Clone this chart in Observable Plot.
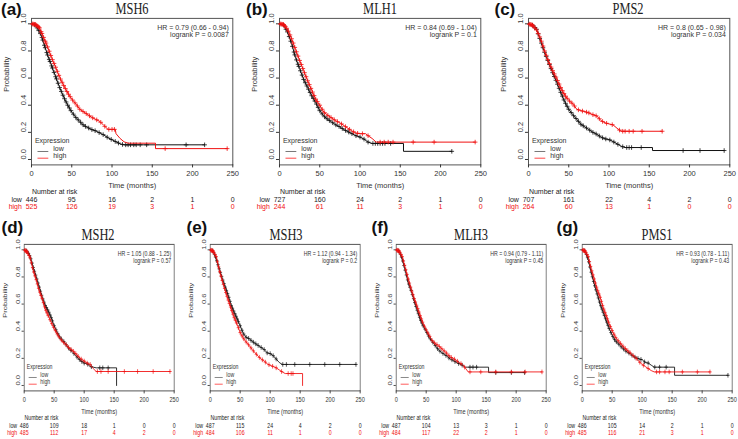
<!DOCTYPE html>
<html><head><meta charset="utf-8">
<script src="https://cdn.jsdelivr.net/npm/d3@7"></script>
<script src="https://cdn.jsdelivr.net/npm/@observablehq/plot@0.6"></script>
<style>
html,body{margin:0;padding:0;background:#fff;overflow:hidden}
#root{position:relative;width:738px;height:439px;overflow:hidden;background:#fff}
.panel{position:absolute;transform-origin:0 0;width:247.8px;height:218px}
.panel svg{max-width:none !important;display:block}
.lab{position:absolute;font:bold 17px "Liberation Sans",Arial,sans-serif;line-height:1;white-space:nowrap;color:#111}
.ttl{position:absolute;font:17px "Liberation Serif","DejaVu Serif",serif;line-height:1;white-space:nowrap;color:#222;transform:translateX(-50%) scaleX(0.73)}
</style></head><body><div id="root"></div>
<script>
// ---------- data ----------
const genes = ["MSH6", "MLH1", "PMS2", "MSH2", "MSH3", "MLH3", "PMS1"];
const panelLetters = ["(a)", "(b)", "(c)", "(d)", "(e)", "(f)", "(g)"];
const hrText = ["HR = 0.79 (0.66 - 0.94)", "HR = 0.84 (0.69 - 1.04)", "HR = 0.8 (0.65 - 0.98)",
  "HR = 1.05 (0.88 - 1.25)", "HR = 1.12 (0.94 - 1.34)", "HR = 0.94 (0.79 - 1.11)", "HR = 0.93 (0.78 - 1.11)"];
const logrankText = ["logrank P = 0.0087", "logrank P = 0.1", "logrank P = 0.034",
  "logrank P = 0.57", "logrank P = 0.2", "logrank P = 0.45", "logrank P = 0.43"];
const riskTimes = [0, 50, 100, 150, 200, 250];
const yTicks = [0, 0.2, 0.4, 0.6, 0.8, 1.0];
const riskLow = [[446, 95, 16, 2, 1, 0], [727, 160, 24, 2, 1, 0], [707, 161, 22, 4, 2, 0],
  [486, 109, 18, 1, 0, 0], [487, 115, 24, 4, 2, 0], [487, 104, 13, 3, 1, 0], [486, 105, 14, 2, 1, 0]];
const riskHigh = [[525, 126, 19, 3, 1, 0], [244, 61, 11, 3, 1, 0], [264, 60, 13, 1, 0, 0],
  [485, 112, 17, 4, 2, 0], [484, 106, 11, 1, 0, 0], [484, 117, 22, 2, 1, 0], [485, 116, 21, 3, 1, 0]];

// survival curves: [months, probability]
const msh6Low = [[0,1],[5,0.99],[10,0.94],[12.5,0.91],[15,0.86],[20,0.77],[25,0.69],[30,0.61],[35,0.53],[40,0.46],[45,0.40],[50,0.35],[55,0.31],[60,0.28],[65,0.25],[70,0.235],[75,0.22],[80,0.21],[85,0.195],[90,0.18],[95,0.16],[100,0.145],[105,0.13],[110,0.115],[115,0.108],[215,0.108]];
const msh6High = [[0,1],[5,0.995],[10,0.97],[15,0.90],[20,0.83],[25,0.75],[30,0.68],[35,0.605],[40,0.545],[45,0.49],[50,0.445],[55,0.41],[60,0.37],[65,0.35],[70,0.33],[75,0.31],[80,0.295],[85,0.28],[90,0.25],[95,0.222],[104,0.222],[105,0.19],[110,0.155],[115,0.13],[120,0.12],[154,0.12],[154,0.08],[243,0.08]];
const mlh1Low = [[0,1],[5,0.99],[10,0.94],[15,0.855],[20,0.75],[25,0.67],[30,0.59],[35,0.53],[40,0.47],[45,0.42],[50,0.36],[55,0.32],[60,0.295],[65,0.275],[70,0.255],[75,0.24],[80,0.22],[85,0.205],[90,0.19],[95,0.175],[100,0.165],[105,0.15],[110,0.128],[115,0.118],[154,0.118],[154,0.06],[214,0.06]];
const mlh1High = [[0,1],[5,0.995],[10,0.96],[15,0.89],[20,0.81],[25,0.73],[30,0.655],[35,0.58],[40,0.51],[45,0.445],[50,0.40],[55,0.35],[60,0.325],[65,0.305],[70,0.285],[75,0.27],[80,0.25],[85,0.23],[90,0.21],[95,0.195],[100,0.19],[107,0.19],[110,0.175],[115,0.155],[120,0.128],[243,0.128]];
const pms2Low = [[0,1],[5,0.99],[10,0.96],[15,0.875],[20,0.79],[25,0.715],[30,0.64],[35,0.57],[40,0.495],[45,0.425],[50,0.37],[55,0.33],[60,0.295],[65,0.26],[70,0.24],[75,0.22],[80,0.20],[85,0.185],[90,0.165],[95,0.152],[100,0.147],[105,0.132],[110,0.115],[115,0.098],[120,0.088],[154,0.088],[154,0.066],[243,0.066]];
const pms2High = [[0,1],[5,0.99],[10,0.955],[15,0.89],[20,0.80],[25,0.72],[30,0.655],[35,0.595],[40,0.53],[45,0.475],[50,0.435],[55,0.41],[60,0.37],[65,0.36],[70,0.353],[75,0.343],[80,0.33],[85,0.32],[90,0.287],[95,0.27],[100,0.262],[105,0.255],[110,0.23],[115,0.208],[166,0.208]];
const msh2Low = [[0,1],[5,0.99],[10,0.95],[15,0.87],[20,0.80],[25,0.725],[30,0.65],[35,0.59],[40,0.55],[45,0.50],[50,0.44],[55,0.39],[60,0.35],[65,0.33],[70,0.30],[75,0.27],[80,0.25],[85,0.225],[90,0.20],[95,0.18],[100,0.165],[105,0.16],[110,0.14],[115,0.135],[120,0.13],[154,0.13],[154,0]];
const msh2High = [[0,1],[5,0.985],[10,0.94],[15,0.85],[20,0.78],[25,0.70],[30,0.64],[35,0.565],[40,0.515],[45,0.465],[50,0.42],[55,0.38],[60,0.345],[65,0.32],[70,0.30],[75,0.275],[80,0.26],[85,0.24],[90,0.215],[95,0.195],[100,0.18],[105,0.165],[110,0.155],[115,0.125],[120,0.103],[243,0.103]];
const msh3Low = [[0,1],[5,0.99],[10,0.935],[15,0.86],[20,0.79],[25,0.725],[30,0.665],[35,0.59],[40,0.54],[45,0.49],[50,0.44],[55,0.385],[60,0.355],[65,0.345],[70,0.325],[75,0.31],[80,0.295],[85,0.28],[90,0.265],[95,0.24],[100,0.235],[105,0.22],[110,0.195],[115,0.17],[120,0.155],[243,0.155]];
const msh3High = [[0,1],[5,0.99],[10,0.95],[15,0.855],[20,0.775],[25,0.70],[30,0.63],[35,0.565],[40,0.50],[45,0.45],[50,0.39],[55,0.35],[60,0.32],[65,0.295],[70,0.265],[75,0.24],[80,0.215],[85,0.195],[90,0.18],[95,0.16],[100,0.148],[105,0.14],[110,0.13],[115,0.115],[120,0.10],[125,0.088],[154,0.088],[154,0]];
const mlh3Low = [[0,1],[5,0.99],[10,0.935],[15,0.85],[20,0.76],[25,0.70],[30,0.625],[35,0.555],[40,0.49],[45,0.44],[50,0.40],[55,0.355],[60,0.325],[65,0.295],[70,0.265],[75,0.245],[80,0.23],[85,0.215],[90,0.195],[95,0.185],[100,0.17],[105,0.16],[110,0.15],[115,0.135],[154,0.135],[154,0.095],[214,0.095]];
const mlh3High = [[0,1],[5,0.99],[10,0.95],[15,0.87],[20,0.785],[25,0.71],[30,0.64],[35,0.58],[40,0.515],[45,0.455],[50,0.41],[55,0.37],[60,0.33],[65,0.31],[70,0.295],[75,0.275],[80,0.255],[85,0.235],[90,0.21],[95,0.20],[100,0.185],[105,0.17],[110,0.155],[115,0.13],[120,0.10],[243,0.10]];
const pms1Low = [[0,1],[5,0.99],[10,0.93],[15,0.835],[20,0.75],[25,0.675],[30,0.60],[35,0.54],[40,0.48],[45,0.42],[50,0.37],[55,0.33],[60,0.31],[65,0.285],[70,0.265],[75,0.245],[80,0.235],[85,0.215],[90,0.205],[95,0.195],[100,0.19],[105,0.17],[110,0.165],[115,0.15],[120,0.135],[154,0.135],[154,0.075],[243,0.075]];
const pms1High = [[0,1],[5,0.99],[10,0.95],[15,0.86],[20,0.785],[25,0.71],[30,0.65],[35,0.575],[40,0.515],[45,0.455],[50,0.405],[55,0.36],[60,0.33],[65,0.305],[70,0.28],[75,0.26],[80,0.24],[85,0.22],[90,0.20],[95,0.175],[100,0.155],[105,0.14],[110,0.125],[115,0.11],[120,0.10],[213,0.10]];

// censoring times (months)
const msh6LowCens = [4,7,9,11,13,14,16,17,19,20,22,23,25,26,28,30,31,33,35,37,39,41,43,45,47,49,52,55,58,61,64,67,71,75,79,84,89,94,99,104,108,113,117,120,123,127,130,135,143,192,215];
const msh6HighCens = [1,2,3,4,5,6,7,8,9,10,12,13,15,17,18,20,22,24,26,28,30,32,34,36,38,40,42,44,46,48,51,54,57,60,64,68,72,76,81,86,91,96,100,103,166,243];
const mlh1LowCens = [5,8,10,12,14,16,18,19,21,23,24,26,28,30,32,34,36,38,40,42,44,46,48,50,53,56,59,62,66,70,74,78,82,86,90,95,100,105,110,116,119,122,125,128,131,138,214];
const mlh1HighCens = [1,2,3,4,5,6,7,9,11,13,15,17,19,21,23,25,27,29,31,33,35,37,39,41,43,45,47,50,53,56,60,64,68,72,77,82,87,92,97,103,110,125,130,135,141,166,192,243];
const pms2LowCens = [5,8,10,12,14,16,18,20,22,24,26,28,30,32,34,36,38,40,42,44,46,48,50,53,56,59,62,65,68,72,76,80,84,88,92,96,101,106,111,117,122,125,128,140,192,213,243];
const pms2HighCens = [1,2,3,4,5,6,8,10,12,14,16,18,20,22,24,26,28,30,32,34,36,38,40,42,44,46,48,51,54,57,62,67,72,75,80,84,88,92,97,104,113,117,120,125,130,141,166];
const msh2LowCens = [4,7,9,11,13,15,17,19,21,23,25,27,29,31,33,35,37,39,41,43,45,47,50,53,56,59,62,66,70,74,78,83,88,92,96,100,106,112,126,131,140];
const msh2HighCens = [1,2,3,4,5,6,8,10,12,14,16,18,20,22,24,26,28,30,32,34,36,38,40,43,46,49,52,55,58,62,66,70,74,78,82,86,90,95,100,105,110,122,128,140,167,189,215,243];
const msh3LowCens = [4,7,9,11,13,15,17,19,21,23,25,27,29,31,33,35,37,39,41,43,45,47,50,53,56,60,64,68,72,76,80,85,90,95,100,105,110,121,127,141,166,191,216,243];
const msh3HighCens = [1,2,3,4,5,6,8,10,12,14,16,18,20,22,24,26,28,30,32,34,36,38,40,42,44,47,50,53,56,60,64,68,72,77,82,87,92,98,104,110,119,130,135,138];
const mlh3LowCens = [4,7,9,11,13,15,17,19,21,23,25,27,29,31,33,35,37,39,41,43,45,48,51,54,57,61,65,69,73,78,83,88,93,98,104,110,123,128,134,166,192,214];
const mlh3HighCens = [1,2,3,4,5,6,8,10,12,14,16,18,20,22,24,26,28,30,32,34,36,38,40,42,44,47,50,53,56,60,64,68,72,76,80,84,88,92,97,102,108,114,123,141,166,192,215,243];
const pms1LowCens = [4,7,9,11,13,15,17,19,21,23,25,27,29,31,33,35,37,39,41,43,45,48,51,54,57,61,65,69,73,78,83,88,93,98,104,110,121,129,140,243];
const pms1HighCens = [1,2,3,4,5,6,8,10,12,14,16,18,20,22,24,26,28,30,32,34,36,38,40,42,44,47,50,53,56,60,64,68,72,76,80,85,90,96,102,110,124,129,138,145,167,192,213];

const curvesLow = [msh6Low, mlh1Low, pms2Low, msh2Low, msh3Low, mlh3Low, pms1Low];
const curvesHigh = [msh6High, mlh1High, pms2High, msh2High, msh3High, mlh3High, pms1High];
const censLow = [msh6LowCens, mlh1LowCens, pms2LowCens, msh2LowCens, msh3LowCens, mlh3LowCens, pms1LowCens];
const censHigh = [msh6HighCens, mlh1HighCens, pms2HighCens, msh2HighCens, msh3HighCens, mlh3HighCens, pms1HighCens];

// ---------- layout (page positions) ----------
const K = 0.745; // horizontal squeeze of the lower row
const layout = [
  {left: -4.7, top: 0, k: 1, labX: 1, labY: 1, tx: 132.3, ty: 0},
  {left: 243.3, top: 0, k: 1, labX: 246, labY: 1, tx: 379.8, ty: 0},
  {left: 491.7, top: 0, k: 1, labX: 494.5, labY: 1, tx: 628.3, ty: 0},
  {left: -3.5, top: 225.7, k: K, labX: 1.5, labY: 219, tx: 98.3, ty: 225.5},
  {left: 183.2, top: 225.7, k: K, labX: 186.5, labY: 219, tx: 285.5, ty: 225.5},
  {left: 369, top: 225.7, k: K, labX: 371.5, labY: 219, tx: 470.8, ty: 225.5},
  {left: 555, top: 225.7, k: K, labX: 556.5, labY: 219, tx: 656.8, ty: 225.5}
];

function survAt(curve, t) {
  let i = 0;
  for (let j = 0; j < curve.length; j++) if (curve[j][0] <= t) i = j;
  const a = curve[i], b = curve[i + 1];
  if (!b || b[0] === a[0]) return a[1];
  return a[1] + (b[1] - a[1]) * (t - a[0]) / (b[0] - a[0]);
}

const RED = "#f01010";
const hline = {draw(ctx) { ctx.moveTo(-5.4, 0); ctx.lineTo(5.4, 0); }};

function drawPanel(i) {
  const low = curvesLow[i], high = curvesHigh[i];
  const fs = 7;
  return Plot.plot({
    width: 247.8, height: 218,
    marginLeft: 36, marginRight: 10.5, marginTop: 17.9, marginBottom: 53.6,
    x: {domain: [0, 250]},
    y: {domain: [-0.04, 1.04]},
    style: {fontFamily: '"Liberation Sans", Arial, sans-serif', fontSize: fs + "px", color: "#333", background: "none"},
    marks: [
      Plot.frame({stroke: "#555"}),
      Plot.axisX({ticks: riskTimes, tickSize: 3, tickPadding: 3, fontSize: 7.5, label: null, color: "#333"}),
      Plot.axisY({ticks: yTicks, tickSize: 3, tickFormat: () => "", label: null, color: "#333"}),
      Plot.text(yTicks, {y: d => d, frameAnchor: "left", dx: -8, rotate: -90, text: d => d.toFixed(1), fontSize: 7.5, fill: "#333"}),
      Plot.text(["Probability"], {frameAnchor: "left", dx: -25, rotate: -90, fontSize: 7.5, fill: "#333"}),
      Plot.text(["Time (months)"], {frameAnchor: "bottom", dy: 23.6, fontSize: 7.5, fill: "#333"}),
      Plot.line(low, {x: d => d[0], y: d => d[1], stroke: "#111", strokeWidth: 1}),
      Plot.dot(censLow[i], {x: t => t, y: t => survAt(low, t), symbol: "plus", r: 1.6, stroke: "#111", strokeWidth: 0.8}),
      Plot.line(high, {x: d => d[0], y: d => d[1], stroke: RED, strokeWidth: 1}),
      Plot.dot(censHigh[i], {x: t => t, y: t => survAt(high, t), symbol: "plus", r: 1.6, stroke: RED, strokeWidth: 0.8}),
      Plot.text([hrText[i]], {frameAnchor: "top-right", dx: -4, dy: 6.6, textAnchor: "end", fill: "#333"}),
      Plot.text([logrankText[i]], {frameAnchor: "top-right", dx: -4, dy: 14, textAnchor: "end", fill: "#333"}),
      Plot.text(["Expression"], {frameAnchor: "bottom-left", dx: 3.4, dy: -22.2, textAnchor: "start", fill: "#333"}),
      Plot.dot([0], {frameAnchor: "bottom-left", dx: 11.4, dy: -13.4, symbol: hline, fill: "none", stroke: "#777", strokeWidth: 1}),
      Plot.dot([0], {frameAnchor: "bottom-left", dx: 11.4, dy: -6.7, symbol: hline, fill: "none", stroke: "#f44", strokeWidth: 1}),
      Plot.text(["low"], {frameAnchor: "bottom-left", dx: 21.7, dy: -13.4, textAnchor: "start", fill: "#333"}),
      Plot.text(["high"], {frameAnchor: "bottom-left", dx: 21.7, dy: -6.7, textAnchor: "start", fill: "#333"}),
      Plot.text(["Number at risk"], {frameAnchor: "bottom-left", dx: 0.4, dy: 29.6, textAnchor: "start", fill: "#222"}),
      Plot.text(["low"], {frameAnchor: "bottom-left", dx: -9.6, dy: 37.3, textAnchor: "end", fill: "#222"}),
      Plot.text(["high"], {frameAnchor: "bottom-left", dx: -9.6, dy: 44.6, textAnchor: "end", fill: RED}),
      Plot.text(riskLow[i], {x: (d, j) => riskTimes[j], frameAnchor: "bottom", dy: 37.3, text: d => String(d), fill: "#222"}),
      Plot.text(riskHigh[i], {x: (d, j) => riskTimes[j], frameAnchor: "bottom", dy: 44.6, text: d => String(d), fill: RED})
    ]
  });
}

const root = document.getElementById("root");
genes.forEach((g, i) => {
  const L = layout[i];
  const wrap = document.createElement("div");
  wrap.className = "panel";
  wrap.style.left = L.left + "px";
  wrap.style.top = L.top + "px";
  wrap.style.transform = `scaleX(${L.k})`;
  const svg = drawPanel(i);
  svg.style.maxWidth = "none";
  svg.style.width = "247.8px";
  svg.style.height = "218px";
  wrap.appendChild(svg);
  root.appendChild(wrap);
  const lab = document.createElement("div");
  lab.className = "lab";
  lab.textContent = panelLetters[i];
  lab.style.left = L.labX + "px";
  lab.style.top = L.labY + "px";
  root.appendChild(lab);
  const t = document.createElement("div");
  t.className = "ttl";
  t.textContent = g;
  t.style.left = L.tx + "px";
  t.style.top = L.ty + "px";
  root.appendChild(t);
});
</script></body></html>
